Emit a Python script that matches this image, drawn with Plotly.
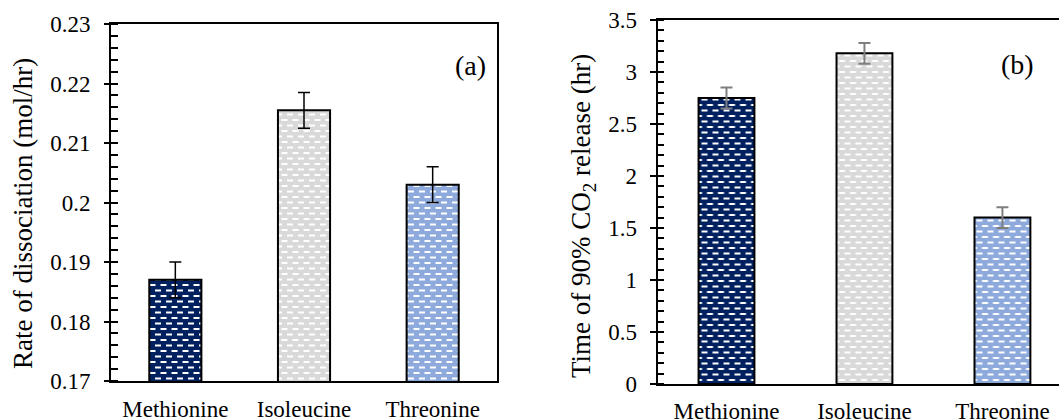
import plotly.graph_objects as go

# Amino acids compared in both panels
categories = ["Methionine", "Isoleucine", "Threonine"]
bar_colors = ["#002060", "#D9D9D9", "#8EA9DB"]

# (a) rate of dissociation, mol/hr
rate_values = [0.187, 0.2155, 0.203]
rate_errors = [0.003, 0.003, 0.003]
rate_ticks = [0.17, 0.18, 0.19, 0.20, 0.21, 0.22, 0.23]
rate_ticktext = ["0.17", "0.18", "0.19", "0.2", "0.21", "0.22", "0.23"]

# (b) time to 90 % CO2 release, hr
time_values = [2.75, 3.18, 1.60]
time_errors = [0.10, 0.10, 0.10]
time_ticks = [0, 0.5, 1, 1.5, 2, 2.5, 3, 3.5]
time_ticktext = ["0", "0.5", "1", "1.5", "2", "2.5", "3", "3.5"]

FONT = "Liberation Serif"
W, H = 1059, 419


def px_x(p):
    return p / W


def px_y(p):
    return 1 - p / H


fig = go.Figure()

bar_style = dict(
    marker=dict(
        color=bar_colors,
        line=dict(color="black", width=2),
        pattern=dict(shape=".", fgcolor="white", size=6, solidity=0.25),
    ),
    showlegend=False,
    hoverinfo="skip",
)

fig.add_trace(go.Bar(
    x=categories, y=rate_values,
    error_y=dict(type="data", array=rate_errors, color="black", thickness=1.5, width=6),
    xaxis="x", yaxis="y", **bar_style,
))
fig.add_trace(go.Bar(
    x=categories, y=time_values,
    error_y=dict(type="data", array=time_errors, color="#7F7F7F", thickness=2, width=6),
    xaxis="x2", yaxis="y2", **bar_style,
))

tick_font = dict(family=FONT, size=23, color="black")
title_font = dict(family=FONT, size=27, color="black")
panel_font = dict(family=FONT, size=28, color="black")

axis_common = dict(showgrid=False, zeroline=False, linecolor="black", linewidth=2,
                   automargin=False)

left_dom = [px_x(111), px_x(497)]
left_ydom = [px_y(381), px_y(24)]
right_dom = [px_x(657.5), 1.0]
right_ydom = [px_y(384), px_y(20)]

fig.update_layout(
    width=W, height=H,
    margin=dict(l=0, r=0, t=0, b=0),
    paper_bgcolor="white", plot_bgcolor="white",
    bargap=0.595,
    font=dict(family=FONT, size=23, color="black"),
    xaxis=dict(
        domain=left_dom, anchor="y", range=[-0.5, 2.5], showline=True, mirror=True,
        ticks="", tickfont=tick_font, ticklabelstandoff=6, **axis_common,
    ),
    yaxis=dict(
        domain=left_ydom, anchor="x", range=[0.17, 0.23], showline=True, mirror=True,
        tickmode="array", tickvals=rate_ticks, ticktext=rate_ticktext, tickfont=tick_font,
        ticks="outside", ticklen=5, tickwidth=1.5, tickcolor="black", ticklabelstandoff=9,
        minor=dict(dtick=0.002, ticks="inside", ticklen=7, tickwidth=1.5, tickcolor="black"),
        **axis_common,
    ),
    # inner half of the major ticks on panel (a)
    yaxis3=dict(
        overlaying="y", anchor="x", range=[0.17, 0.23], side="left",
        tickmode="array", tickvals=rate_ticks, showticklabels=False,
        ticks="inside", ticklen=4, tickwidth=1.5, tickcolor="black",
        showgrid=False, zeroline=False, showline=False, automargin=False,
    ),
    xaxis2=dict(
        domain=right_dom, anchor="y2", range=[-0.5, 2.41], showline=True, mirror=True,
        ticks="", tickfont=tick_font, ticklabelstandoff=5, **axis_common,
    ),
    yaxis2=dict(
        domain=right_ydom, anchor="x2", range=[0, 3.5], showline=True, mirror=False,
        tickmode="array", tickvals=time_ticks, ticktext=time_ticktext, tickfont=tick_font,
        ticks="outside", ticklen=6, tickwidth=1.5, tickcolor="black", ticklabelstandoff=8,
        minor=dict(dtick=0.1, ticks="inside", ticklen=6, tickwidth=1.5, tickcolor="black"),
        **axis_common,
    ),
    # inner half of the major ticks on panel (b)
    yaxis4=dict(
        overlaying="y2", anchor="x2", range=[0, 3.5], side="left",
        tickmode="array", tickvals=time_ticks, showticklabels=False,
        ticks="inside", ticklen=6, tickwidth=1.5, tickcolor="black",
        showgrid=False, zeroline=False, showline=False, automargin=False,
    ),
    annotations=[
        # vertical axis titles
        dict(text="Rate of dissociation (mol/hr)", xref="paper", yref="paper",
             x=px_x(23), y=px_y(214), textangle=-90, showarrow=False,
             xanchor="center", yanchor="middle", font=title_font),
        dict(text="Time of 90% CO<sub>2</sub> release (hr)", xref="paper", yref="paper",
             x=px_x(583), y=px_y(216), textangle=-90, showarrow=False,
             xanchor="center", yanchor="middle", font=title_font),
        # panel letters
        dict(text="(a)", xref="paper", yref="paper", x=px_x(470), y=px_y(48),
             showarrow=False, font=panel_font),
        dict(text="(b)", xref="paper", yref="paper", x=px_x(1036), y=px_y(47),
             showarrow=False, font=panel_font),
    ],
)

# Brick-style dash texture for the bar fills: rows of short white dashes,
# every other row shifted by half a period.
brick_js = """
var gd = document.getElementById('{plot_id}');
function brickPatterns() {
  var ns = 'http://www.w3.org/2000/svg';
  gd.querySelectorAll('pattern').forEach(function (p) {
    if (p.getAttribute('data-brick')) return;
    var r = p.querySelector('rect');
    var bg = r ? (r.getAttribute('fill') || r.style.fill) : null;
    if (!bg) return;
    while (p.firstChild) p.removeChild(p.firstChild);
    p.setAttribute('width', 11);
    p.setAttribute('height', 11);
    function add(x, y, w, h, c) {
      var e = document.createElementNS(ns, 'rect');
      e.setAttribute('x', x); e.setAttribute('y', y);
      e.setAttribute('width', w); e.setAttribute('height', h);
      e.setAttribute('fill', c);
      p.appendChild(e);
    }
    add(0, 0, 11, 11, bg);
    add(0, 1.5, 6, 2, '#FFFFFF');
    add(5.5, 7, 6, 2, '#FFFFFF');
    add(-5.5, 7, 6, 2, '#FFFFFF');
    p.setAttribute('data-brick', '1');
  });
}
brickPatterns();
gd.on('plotly_afterplot', brickPatterns);
"""

fig.write_html("out.html", post_script=brick_js, config={"displayModeBar": False})
